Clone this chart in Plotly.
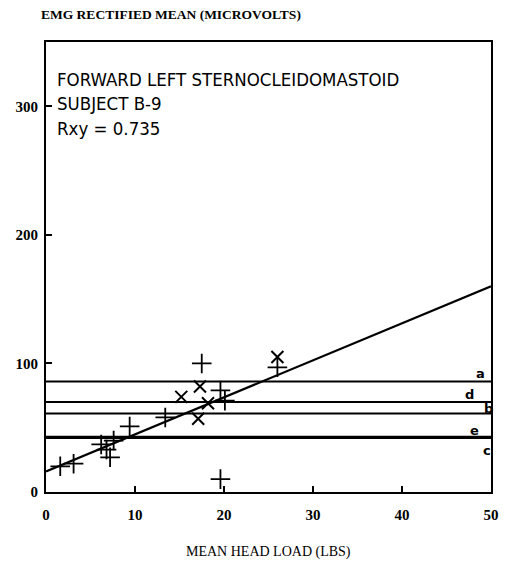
import plotly.graph_objects as go

# Data
plus_x = [1.6, 3.1, 6.2, 6.8, 7.2, 7.6, 9.4, 13.4, 17.5, 19.6, 20.1, 26.0, 19.6]
plus_y = [20, 22, 37, 33, 27, 40, 51, 58, 100, 79, 71, 97, 10]
cross_x = [15.2, 17.3, 18.2, 17.1, 26.0]
cross_y = [74, 82, 69, 57, 105]

fit_x = [0, 50]
fit_y = [16, 160]

ref_labels = ["a", "d", "b", "e", "c"]
ref_levels = [86, 70, 61, 43, 42]
ref_label_x = [48.8, 47.6, 49.7, 48.2, 49.6]
ref_label_y = [92, 76, 65, 48, 32]

x_ticks = [0, 10, 20, 30, 40, 50]
y_ticks = [0, 100, 200, 300]

text_lines = ["FORWARD LEFT STERNOCLEIDOMASTOID", "SUBJECT B-9", "Rxy = 0.735"]
text_y = [321, 302, 283]

fig = go.Figure()

for lvl in ref_levels:
    fig.add_trace(go.Scatter(x=[0, 50], y=[lvl, lvl], mode="lines",
                             line=dict(color="black", width=2), hoverinfo="skip",
                             showlegend=False))

fig.add_trace(go.Scatter(x=fit_x, y=fit_y, mode="lines",
                         line=dict(color="black", width=2.2), showlegend=False))

fig.add_trace(go.Scatter(x=plus_x, y=plus_y, mode="markers",
                         marker=dict(symbol="cross-thin", size=14,
                                     line=dict(color="black", width=1.8)),
                         showlegend=False))
fig.add_trace(go.Scatter(x=cross_x, y=cross_y, mode="markers",
                         marker=dict(symbol="x-thin", size=12,
                                     line=dict(color="black", width=2)),
                         showlegend=False))

annotations = []
for lab, lx, ly in zip(ref_labels, ref_label_x, ref_label_y):
    annotations.append(dict(x=lx, y=ly, text=lab, showarrow=False,
                            font=dict(family="DejaVu Sans", size=13, color="black",
                                      weight="bold")))
for t, ty in zip(text_lines, text_y):
    annotations.append(dict(x=1.0, y=ty, text=t, showarrow=False, xanchor="left",
                            yanchor="middle",
                            font=dict(family="DejaVu Sans Condensed", size=18.5, color="black")))
annotations.append(dict(x=-0.015, y=1.06, xref="paper", yref="paper",
                        text="<b>EMG RECTIFIED MEAN (MICROVOLTS)</b>", showarrow=False,
                        xanchor="left", yanchor="middle",
                        font=dict(family="Liberation Serif", size=13.5, color="black")))
annotations.append(dict(x=0.5, y=-0.133, xref="paper", yref="paper",
                        text="MEAN HEAD LOAD (LBS)", showarrow=False,
                        xanchor="center", yanchor="middle",
                        font=dict(family="Liberation Serif", size=14, color="black")))

fig.update_layout(
    width=506, height=565,
    margin=dict(l=46, r=15, t=42, b=73),
    paper_bgcolor="white", plot_bgcolor="white",
    annotations=annotations,
    xaxis=dict(range=[0, 50], tickvals=x_ticks, ticks="inside", ticklen=6,
               tickcolor="black", tickwidth=1.5, showgrid=False, zeroline=False,
               showline=True, linecolor="black", linewidth=2, mirror=True,
               tickfont=dict(family="Liberation Serif", size=15, color="black",
                             weight="bold"),
               ticklabelstandoff=8, automargin=False),
    yaxis=dict(range=[0, 350], tickvals=y_ticks, ticks="inside", ticklen=6,
               tickcolor="black", tickwidth=1.5, showgrid=False, zeroline=False,
               showline=True, linecolor="black", linewidth=2, mirror=True,
               tickfont=dict(family="Liberation Serif", size=15, color="black",
                             weight="bold"),
               ticklabelstandoff=3, automargin=False),
)

fig.write_html("out.html", config={"displayModeBar": False},
               post_script="document.body.style.margin='0';document.body.style.overflow='hidden';")
